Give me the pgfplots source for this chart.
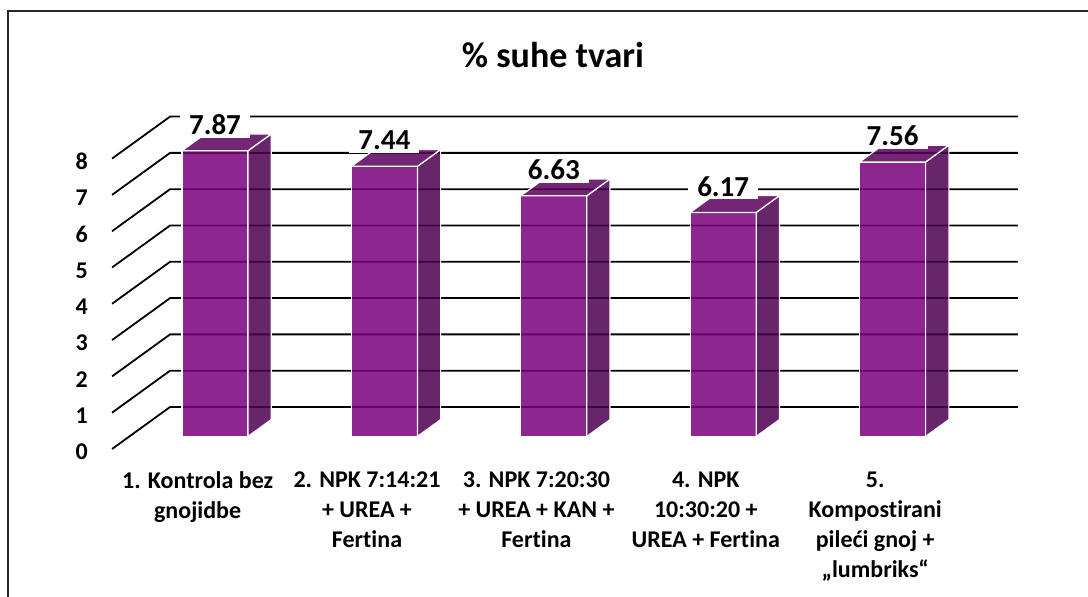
\documentclass[border=0pt]{standalone}
\usepackage{fontspec}
\setmainfont{Carlito}[Ligatures=NoCommon]
\usepackage{pgfplots}
\usepackage{pgfplotstable}
\pgfplotsset{compat=1.18}
\definecolor{frontc}{RGB}{122,0,124}
\definecolor{sidec}{RGB}{76,0,80}
\definecolor{topc}{RGB}{90,0,91}

\pgfplotstableread{
idx val
0 7.87
1 7.44
2 6.63
3 6.17
4 7.56
}\datatable

\begin{document}
\begin{tikzpicture}
\begin{axis}[
  scale only axis, width=1088pt, height=597pt,
  xmin=-1.1665, xmax=5.2562, ymin=-4.0771, ymax=12.3691,
  hide axis, clip=false,
]
% frame
\draw[line width=2pt, black!85] (rel axis cs:0.0069,0) -- (rel axis cs:0.0069,0.9816) -- (rel axis cs:1,0.9816);
% gridlines (front floor edge -> back wall)
\addplot[black, line width=1.8pt] coordinates {(-0.505,0) (-0.1626,1.157) (4.8424,1.157)};
\addplot[black, line width=1.8pt] coordinates {(-0.505,1) (-0.1626,2.157) (4.8424,2.157)};
\addplot[black, line width=1.8pt] coordinates {(-0.505,2) (-0.1626,3.157) (4.8424,3.157)};
\addplot[black, line width=1.8pt] coordinates {(-0.505,3) (-0.1626,4.157) (4.8424,4.157)};
\addplot[black, line width=1.8pt] coordinates {(-0.505,4) (-0.1626,5.157) (4.8424,5.157)};
\addplot[black, line width=1.8pt] coordinates {(-0.505,5) (-0.1626,6.157) (4.8424,6.157)};
\addplot[black, line width=1.8pt] coordinates {(-0.505,6) (-0.1626,7.157) (4.8424,7.157)};
\addplot[black, line width=1.8pt] coordinates {(-0.505,7) (-0.1626,8.157) (4.8424,8.157)};
\addplot[black, line width=1.8pt] coordinates {(-0.505,8) (-0.1626,9.157) (4.8424,9.157)};
% y tick labels
\pgfplotsinvokeforeach{0,...,8}{
  \node[anchor=east, font=\fontsize{24}{28}\selectfont\bfseries, inner sep=0pt] at (axis cs:-0.647,#1-0.08) {#1};
}
% bars
\pgfplotsinvokeforeach{0,...,4}{
  \pgfplotstablegetelem{#1}{val}\of\datatable
  \pgfmathsetmacro\vf{\pgfplotsretval+0.3471}
  \pgfmathsetmacro\vb{\pgfplotsretval+0.8099}
  \pgfmathsetmacro\xa{#1-0.0923}
  \pgfmathsetmacro\xb{#1+0.2977}
  \pgfmathsetmacro\xc{#1+0.4347}
  \pgfmathsetmacro\xd{#1+0.0447}
  \addplot[draw=white, line width=1.2pt, fill=frontc, fill opacity=0.85]
    coordinates {(\xa,0.3471) (\xb,0.3471) (\xb,\vf) (\xa,\vf)} -- cycle;
  \addplot[draw=white, line width=1.2pt, fill=sidec, fill opacity=0.85]
    coordinates {(\xb,0.3471) (\xc,0.8099) (\xc,\vb) (\xb,\vf)} -- cycle;
  \addplot[draw=white, line width=1.2pt, fill=topc, fill opacity=0.85]
    coordinates {(\xa,\vf) (\xb,\vf) (\xc,\vb) (\xd,\vb)} -- cycle;
  \pgfmathsetmacro\xl{#1+0.1027}
  \pgfmathsetmacro\yl{\pgfplotsretval+1.063}
  \edef\temp{\noexpand\node[fill=white, inner xsep=9pt, inner ysep=3pt, font=\noexpand\fontsize{29}{34}\noexpand\selectfont\noexpand\bfseries] at (axis cs:\xl,\yl) {\pgfplotsretval};}
  \temp
}
% category labels
\node[anchor=north, align=center, font=\fontsize{24}{30}\selectfont\bfseries] at (axis cs:0,-0.523) {1. Kontrola bez\\gnojidbe};
\node[anchor=north, align=center, font=\fontsize{24}{30}\selectfont\bfseries] at (axis cs:1,-0.523) {2. NPK 7:14:21\\+ UREA +\\Fertina};
\node[anchor=north, align=center, font=\fontsize{24}{30}\selectfont\bfseries] at (axis cs:2,-0.523) {3. NPK 7:20:30\\+ UREA + KAN +\\Fertina};
\node[anchor=north, align=center, font=\fontsize{24}{30}\selectfont\bfseries] at (axis cs:3,-0.523) {4. NPK\\10:30:20 +\\UREA + Fertina};
\node[anchor=north, align=center, font=\fontsize{24}{30}\selectfont\bfseries] at (axis cs:4,-0.523) {5.\\Kompostirani\\pileći gnoj +\\„lumbriks“};
% title
\node[font=\fontsize{36}{42}\selectfont\bfseries] at (axis cs:2.098,10.854) {\% suhe tvari};
\end{axis}
\pgfresetboundingbox
\useasboundingbox (current axis.south west) rectangle (current axis.north east);
\end{tikzpicture}
\end{document}
